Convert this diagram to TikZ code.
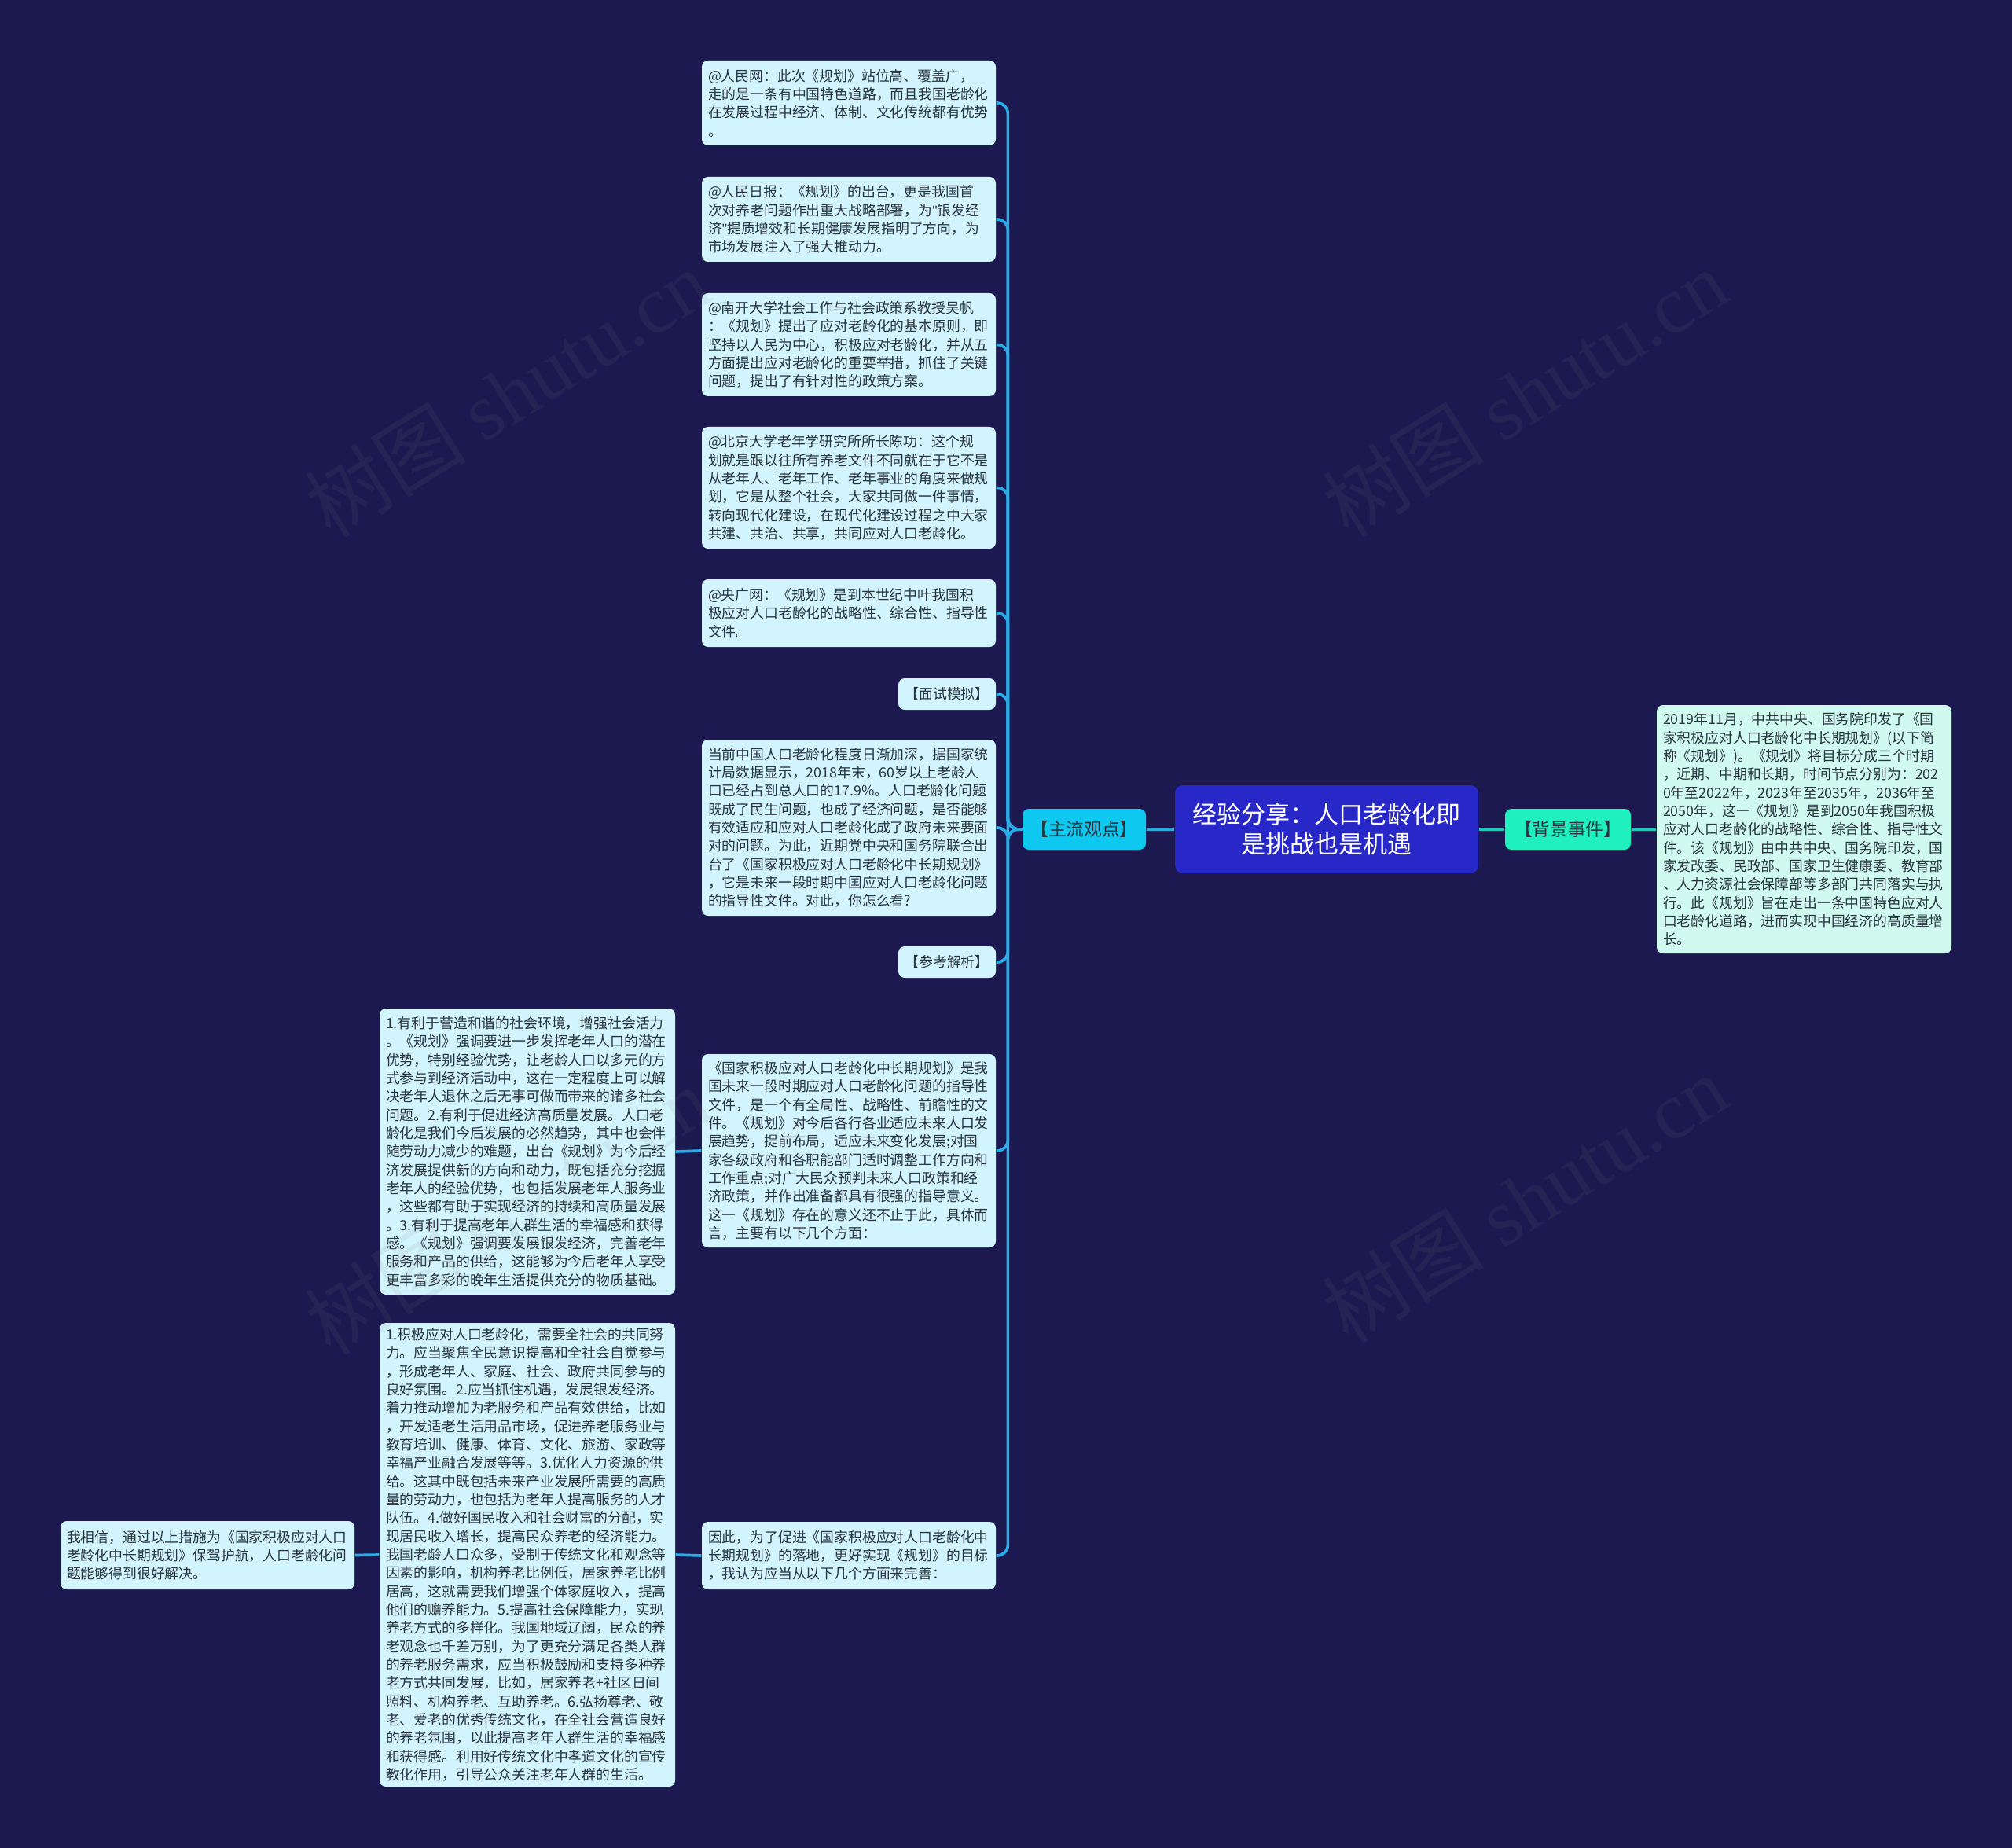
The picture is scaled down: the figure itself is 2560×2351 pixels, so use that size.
\documentclass[tikz,border=0pt]{standalone}
\usepackage{fontspec}
\setmainfont{Noto Sans CJK SC}
\newfontfamily\wmfont{Liberation Serif}
\newfontfamily\quotefont{Liberation Sans}
\definecolor{BgClr}{RGB}{27,25,80}
\definecolor{LeafClr}{RGB}{210,244,252}
\definecolor{NoteClr}{RGB}{208,250,240}
\definecolor{RootClr}{RGB}{40,40,200}
\definecolor{ViewClr}{RGB}{14,200,240}
\definecolor{EventClr}{RGB}{30,240,190}
\definecolor{TxtClr}{RGB}{40,52,62}
\definecolor{BlueLine}{RGB}{40,172,230}
\definecolor{GreenLine}{RGB}{30,205,185}

\tikzset{
  leafbox/.style={rounded corners=2.4pt, fill=LeafClr, text=TxtClr, inner xsep=2.4pt, inner ysep=1pt,
    text width=107.4pt, align=left, font=\fontsize{5.35}{7}\selectfont},
  widebox/.style={leafbox, text width=108pt},
  notebox/.style={leafbox, fill=NoteClr, text width=107.7pt},
  tagbox/.style={rounded corners=2.4pt, fill=LeafClr, text=TxtClr, inner sep=1pt,
    minimum width=37.2pt, minimum height=12pt, font=\fontsize{5.35}{7}\selectfont},
  rootbox/.style={rounded corners=3pt, fill=RootClr, text=white, align=center, inner sep=1pt,
    minimum width=115.8pt, minimum height=33.6pt, font=\fontsize{9.3}{11.4}\selectfont},
  topicbox/.style={rounded corners=2.4pt, text=TxtClr, inner sep=1pt,
    minimum height=15.6pt, font=\fontsize{6.8}{8}\selectfont},
  bluelink/.style={draw=BlueLine, line width=1.1pt},
  greenlink/.style={draw=GreenLine, line width=1.1pt},
  wmark/.style={text=gray, opacity=0.1, rotate=32, font=\fontsize{31}{31}\selectfont}
}

\begin{document}
\begin{tikzpicture}[x=0.3pt, y=-0.3pt]
\useasboundingbox (0,0) rectangle (2560,2351);
\fill[BgClr] (0,0) rectangle (2560,2351);

% centre and first level
\node[rootbox] (jyfx) at (1688,1055) {经验分享：人口老龄化即\\是挑战也是机遇};
\node[topicbox, fill=ViewClr, minimum width=47.1pt] (zlgd) at (1379.5,1055) {【主流观点】};
\node[topicbox, fill=EventClr, minimum width=48pt] (bjsj) at (1995,1055) {【背景事件】};

% right side
\node[notebox, minimum height=94.8pt] (bjnr) at (2295.5,1055) {2019年11月，中共中央、国务院印发了《国\\家积极应对人口老龄化中长期规划》(以下简\\称《规划》)。《规划》将目标分成三个时期\\，近期、中期和长期，时间节点分别为：202\\0年至2022年，2023年至2035年，2036年至\\2050年，这一《规划》是到2050年我国积极\\应对人口老龄化的战略性、综合性、指导性文\\件。该《规划》由中共中央、国务院印发，国\\家发改委、民政部、国家卫生健康委、教育部\\、人力资源社会保障部等多部门共同落实与执\\行。此《规划》旨在走出一条中国特色应对人\\口老龄化道路，进而实现中国经济的高质量增\\长。};

% left side
\node[leafbox, minimum height=32.4pt] (rmw) at (1080,131) {@人民网：此次《规划》站位高、覆盖广，\\走的是一条有中国特色道路，而且我国老龄化\\在发展过程中经济、体制、文化传统都有优势\\。};
\node[leafbox, minimum height=32.4pt] (rmrb) at (1080,279) {@人民日报：《规划》的出台，更是我国首\\次对养老问题作出重大战略部署，为{\quotefont\symbol{34}}银发经\\济{\quotefont\symbol{34}}提质增效和长期健康发展指明了方向，为\\市场发展注入了强大推动力。};
\node[leafbox, minimum height=39.3pt] (nk) at (1080,438.5) {@南开大学社会工作与社会政策系教授吴帆\\：《规划》提出了应对老龄化的基本原则，即\\坚持以人民为中心，积极应对老龄化，并从五\\方面提出应对老龄化的重要举措，抓住了关键\\问题，提出了有针对性的政策方案。};
\node[leafbox, minimum height=46.5pt] (bd) at (1080,620.5) {@北京大学老年学研究所所长陈功：这个规\\划就是跟以往所有养老文件不同就在于它不是\\从老年人、老年工作、老年事业的角度来做规\\划，它是从整个社会，大家共同做一件事情，\\转向现代化建设，在现代化建设过程之中大家\\共建、共治、共享，共同应对人口老龄化。};
\node[leafbox, minimum height=25.8pt] (ygw) at (1080,780) {@央广网：《规划》是到本世纪中叶我国积\\极应对人口老龄化的战略性、综合性、指导性\\文件。};
\node[tagbox] (msmn) at (1205,883) {【面试模拟】};
\node[leafbox, minimum height=67.2pt] (dq) at (1080,1053) {当前中国人口老龄化程度日渐加深，据国家统\\计局数据显示，2018年末，60岁以上老龄人\\口已经占到总人口的17.9\%。人口老龄化问题\\既成了民生问题，也成了经济问题，是否能够\\有效适应和应对人口老龄化成了政府未来要面\\对的问题。为此，近期党中央和国务院联合出\\台了《国家积极应对人口老龄化中长期规划》\\，它是未来一段时期中国应对人口老龄化问题\\的指导性文件。对此，你怎么看?};
\node[tagbox] (ckjx) at (1205,1224) {【参考解析】};
\node[leafbox, minimum height=73.8pt] (gjgh) at (1080,1464) {《国家积极应对人口老龄化中长期规划》是我\\国未来一段时期应对人口老龄化问题的指导性\\文件，是一个有全局性、战略性、前瞻性的文\\件。《规划》对今后各行各业适应未来人口发\\展趋势，提前布局，适应未来变化发展;对国\\家各级政府和各职能部门适时调整工作方向和\\工作重点;对广大民众预判未来人口政策和经\\济政策，并作出准备都具有很强的指导意义。\\这一《规划》存在的意义还不止于此，具体而\\言，主要有以下几个方面：};
\node[leafbox, minimum height=25.8pt] (yc) at (1080,1979) {因此，为了促进《国家积极应对人口老龄化中\\长期规划》的落地，更好实现《规划》的目标\\，我认为应当从以下几个方面来完善：};

% second level on the left
\node[widebox, minimum height=109.2pt] (yl) at (671,1465) {1.有利于营造和谐的社会环境，增强社会活力\\。《规划》强调要进一步发挥老年人口的潜在\\优势，特别经验优势，让老龄人口以多元的方\\式参与到经济活动中，这在一定程度上可以解\\决老年人退休之后无事可做而带来的诸多社会\\问题。2.有利于促进经济高质量发展。人口老\\龄化是我们今后发展的必然趋势，其中也会伴\\随劳动力减少的难题，出台《规划》为今后经\\济发展提供新的方向和动力，既包括充分挖掘\\老年人的经验优势，也包括发展老年人服务业\\，这些都有助于实现经济的持续和高质量发展\\。3.有利于提高老年人群生活的幸福感和获得\\感。《规划》强调要发展银发经济，完善老年\\服务和产品的供给，这能够为今后老年人享受\\更丰富多彩的晚年生活提供充分的物质基础。};
\node[widebox, minimum height=177pt] (cs) at (671,1978) {1.积极应对人口老龄化，需要全社会的共同努\\力。应当聚焦全民意识提高和全社会自觉参与\\，形成老年人、家庭、社会、政府共同参与的\\良好氛围。2.应当抓住机遇，发展银发经济。\\着力推动增加为老服务和产品有效供给，比如\\，开发适老生活用品市场，促进养老服务业与\\教育培训、健康、体育、文化、旅游、家政等\\幸福产业融合发展等等。3.优化人力资源的供\\给。这其中既包括未来产业发展所需要的高质\\量的劳动力，也包括为老年人提高服务的人才\\队伍。4.做好国民收入和社会财富的分配，实\\现居民收入增长，提高民众养老的经济能力。\\我国老龄人口众多，受制于传统文化和观念等\\因素的影响，机构养老比例低，居家养老比例\\居高，这就需要我们增强个体家庭收入，提高\\他们的赡养能力。5.提高社会保障能力，实现\\养老方式的多样化。我国地域辽阔，民众的养\\老观念也千差万别，为了更充分满足各类人群\\的养老服务需求，应当积极鼓励和支持多种养\\老方式共同发展，比如，居家养老+社区日间\\照料、机构养老、互助养老。6.弘扬尊老、敬\\老、爱老的优秀传统文化，在全社会营造良好\\的养老氛围，以此提高老年人群生活的幸福感\\和获得感。利用好传统文化中孝道文化的宣传\\教化作用，引导公众关注老年人群的生活。};
\node[leafbox, minimum height=26.1pt] (xx) at (264,1978.5) {我相信，通过以上措施为《国家积极应对人口\\老龄化中长期规划》保驾护航，人口老龄化问\\题能够得到很好解决。};

% connectors
\draw[greenlink] (jyfx.east) -- (bjsj.west);
\draw[greenlink] (bjsj.east) -- (bjnr.west);
\draw[bluelink] (jyfx.west) -- (zlgd.east);
\foreach \n in {rmw,rmrb,nk,bd,ygw,msmn,dq,ckjx,gjgh,yc}
  \draw[bluelink, rounded corners=4pt] (zlgd.west) -- ++(-18,0) |- (\n.east);
\draw[bluelink] (gjgh.west) -- (yl.east);
\draw[bluelink] (yc.west) -- (cs.east);
\draw[bluelink] (cs.west) -- (xx.east);

% watermarks
\foreach \wx/\wy in {645/500, 1940/500, 645/1540, 1940/1525}
  \node[wmark] (wm) at (\wx,\wy) {树图 {\wmfont shutu.cn}};

\end{tikzpicture}
\end{document}
